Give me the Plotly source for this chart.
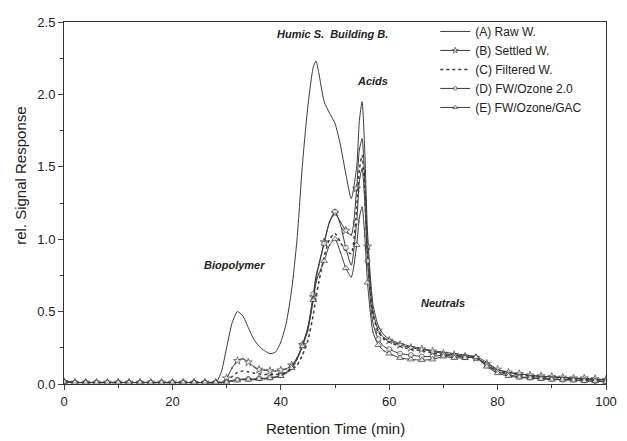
import plotly.graph_objects as go

TIME = [0, 2, 4, 6, 8, 10, 12, 14, 16, 18, 20, 22, 24, 26, 28,
        29, 30, 31, 32, 33, 34, 35, 36, 37, 38, 39, 40, 41, 42, 43, 44, 45, 46,
        46.5,
        47, 48, 49, 50, 51, 52, 53, 54,
        54.5, 55, 55.5,
        56, 57, 58, 59, 60,
        62, 64, 66, 68, 70, 72, 74, 76, 78, 80, 82, 84, 86, 88, 90, 92, 94, 96, 98, 100]

RAW = [0.02, 0.01, 0.01, 0.01, 0.01, 0.01, 0.01, 0.01, 0.01, 0.01, 0.01, 0.01, 0.01, 0.01, 0.01,
       0.08, 0.25, 0.42, 0.50, 0.47, 0.39, 0.31, 0.26, 0.23, 0.21, 0.22, 0.29, 0.42, 0.65, 1.00, 1.52, 1.92, 2.19,
       2.23,
       2.15, 1.95, 1.87, 1.80, 1.65, 1.45, 1.28, 1.50,
       1.82, 1.95, 1.60,
       1.05, 0.55, 0.40, 0.34, 0.31,
       0.28, 0.26, 0.245, 0.23, 0.22, 0.21, 0.20, 0.19, 0.15, 0.10, 0.08, 0.07, 0.06, 0.05, 0.05, 0.045, 0.04, 0.035, 0.03, 0.03]

SETTLED = [0.015, 0.01, 0.01, 0.01, 0.01, 0.01, 0.01, 0.01, 0.01, 0.01, 0.01, 0.01, 0.01, 0.01, 0.01,
           0.01, 0.04, 0.11, 0.16, 0.175, 0.15, 0.12, 0.10, 0.095, 0.09, 0.09, 0.095, 0.105, 0.13, 0.18, 0.27, 0.39, 0.60,
           0.72,
           0.82, 0.98, 1.12, 1.18, 1.12, 1.06, 1.03, 1.35,
           1.62, 1.69, 1.40,
           0.95, 0.50, 0.37, 0.32, 0.30,
           0.27, 0.25, 0.24, 0.225, 0.21, 0.20, 0.19, 0.18, 0.14, 0.10, 0.08, 0.07, 0.06, 0.055, 0.05, 0.045, 0.04, 0.04, 0.035, 0.03]

FILTERED = [0.015, 0.01, 0.01, 0.01, 0.01, 0.01, 0.01, 0.01, 0.01, 0.01, 0.01, 0.01, 0.01, 0.01, 0.01,
            0.01, 0.02, 0.05, 0.08, 0.09, 0.085, 0.075, 0.07, 0.065, 0.065, 0.065, 0.07, 0.08, 0.10, 0.13, 0.20, 0.30, 0.48,
            0.60,
            0.70, 0.88, 1.00, 1.04, 0.98, 0.92, 0.90, 1.22,
            1.48, 1.58, 1.32,
            0.90, 0.48, 0.36, 0.31, 0.29,
            0.26, 0.24, 0.23, 0.215, 0.20, 0.195, 0.19, 0.18, 0.13, 0.09, 0.075, 0.065, 0.055, 0.05, 0.045, 0.04, 0.035, 0.03, 0.03, 0.025]

OZONE = [0.015, 0.01, 0.01, 0.01, 0.01, 0.01, 0.01, 0.01, 0.01, 0.01, 0.01, 0.01, 0.01, 0.01, 0.01,
         0.01, 0.015, 0.025, 0.03, 0.035, 0.035, 0.035, 0.04, 0.04, 0.045, 0.05, 0.06, 0.08, 0.12, 0.18, 0.27, 0.39, 0.62,
         0.75,
         0.82, 0.97, 1.12, 1.19, 1.10, 0.94, 0.82, 1.12,
         1.40, 1.49, 1.25,
         0.85, 0.42, 0.31, 0.26, 0.24,
         0.21, 0.20, 0.19, 0.19, 0.20, 0.19, 0.185, 0.18, 0.13, 0.085, 0.065, 0.05, 0.045, 0.04, 0.035, 0.03, 0.03, 0.025, 0.02, 0.02]

GAC = [0.015, 0.01, 0.01, 0.01, 0.01, 0.01, 0.01, 0.01, 0.01, 0.01, 0.01, 0.01, 0.01, 0.01, 0.01,
       0.01, 0.01, 0.02, 0.025, 0.03, 0.03, 0.03, 0.035, 0.035, 0.04, 0.045, 0.055, 0.075, 0.11, 0.17, 0.26, 0.37, 0.58,
       0.70,
       0.76, 0.85, 0.96, 1.00, 0.91, 0.80, 0.74, 0.96,
       1.15, 1.22, 1.02,
       0.70, 0.36, 0.27, 0.23, 0.21,
       0.18, 0.17, 0.165, 0.17, 0.19, 0.18, 0.18, 0.185, 0.12, 0.075, 0.055, 0.045, 0.04, 0.035, 0.03, 0.03, 0.025, 0.02, 0.02, 0.015]

NAMES = ["(A) Raw W.", "(B) Settled W.", "(C) Filtered W.", "(D) FW/Ozone 2.0", "(E) FW/Ozone/GAC"]

LABELS = ["Humic S.  Building B.", "Acids", "Biopolymer", "Neutrals"]
LABEL_X = [49.5, 57.0, 31.5, 70.0]
LABEL_Y = [2.42, 2.09, 0.82, 0.56]

X_TITLE = "Retention Time (min)"
Y_TITLE = "rel. Signal Response"

FONT = "Liberation Sans, Arial, sans-serif"
LINE = "#3a3a3a"

# show markers every 2 min (style only)
msize = [5 if (t % 2 == 0) else 0 for t in TIME]

fig = go.Figure()
fig.add_trace(go.Scatter(x=TIME, y=RAW, name=NAMES[0], mode="lines",
                         line=dict(color=LINE, width=1, shape="spline", smoothing=0.6)))
fig.add_trace(go.Scatter(x=TIME, y=SETTLED, name=NAMES[1], mode="lines+markers",
                         line=dict(color=LINE, width=1, shape="spline", smoothing=0.6),
                         marker=dict(symbol="star", size=[s + 1 for s in msize], color="white",
                                     line=dict(color=LINE, width=1))))
fig.add_trace(go.Scatter(x=TIME, y=FILTERED, name=NAMES[2], mode="lines",
                         line=dict(color=LINE, width=1.5, dash="dot", shape="spline", smoothing=0.6)))
fig.add_trace(go.Scatter(x=TIME, y=OZONE, name=NAMES[3], mode="lines+markers",
                         line=dict(color=LINE, width=1, shape="spline", smoothing=0.6),
                         marker=dict(symbol="circle", size=msize, color="white",
                                     line=dict(color=LINE, width=1))))
fig.add_trace(go.Scatter(x=TIME, y=GAC, name=NAMES[4], mode="lines+markers",
                         line=dict(color=LINE, width=1, shape="spline", smoothing=0.6),
                         marker=dict(symbol="triangle-up", size=[s + 1 for s in msize], color="white",
                                     line=dict(color=LINE, width=1))))

for txt, lx, ly in zip(LABELS, LABEL_X, LABEL_Y):
    fig.add_annotation(x=lx, y=ly, text="<b><i>" + txt + "</i></b>", showarrow=False,
                       font=dict(family=FONT, size=11, color="#222"))

# axis titles
fig.add_annotation(x=0.5, y=0, xref="paper", yref="paper", yanchor="middle", yshift=-44,
                   text=X_TITLE, showarrow=False, font=dict(family=FONT, size=15, color="#222"))
fig.add_annotation(x=0, y=0.575, xref="paper", yref="paper", xanchor="center", xshift=-43,
                   text=Y_TITLE, textangle=-90, showarrow=False,
                   font=dict(family=FONT, size=15, color="#222"))

# the page body adds an 8px offset, so the figure is sized to fit the window
fig.update_layout(
    width=619, height=433,
    margin=dict(l=56, r=21, t=9, b=57),
    paper_bgcolor="white", plot_bgcolor="white",
    font=dict(family=FONT, size=13, color="#222"),
    showlegend=True,
    legend=dict(x=0.685, y=1.014, xanchor="left", yanchor="top",
                bgcolor="rgba(0,0,0,0)", font=dict(size=12, family=FONT),
                tracegroupgap=0, itemwidth=30),
)
fig.update_xaxes(range=[0, 100], tickvals=[0, 20, 40, 60, 80, 100], ticks="outside", ticklen=5,
                 minor=dict(dtick=10, ticks="outside", ticklen=3, tickcolor="#333"),
                 showline=True, linecolor="#333", linewidth=1, mirror=True, showgrid=False, zeroline=False,
                 automargin=False, tickfont=dict(size=13))
fig.update_yaxes(range=[0, 2.5], dtick=0.5, tickformat=".1f", ticks="outside", ticklen=5,
                 minor=dict(dtick=0.25, ticks="outside", ticklen=3, tickcolor="#333"),
                 showline=True, linecolor="#333", linewidth=1, mirror=True, showgrid=False, zeroline=False,
                 automargin=False, tickfont=dict(size=13))

fig.write_html("out.html")
